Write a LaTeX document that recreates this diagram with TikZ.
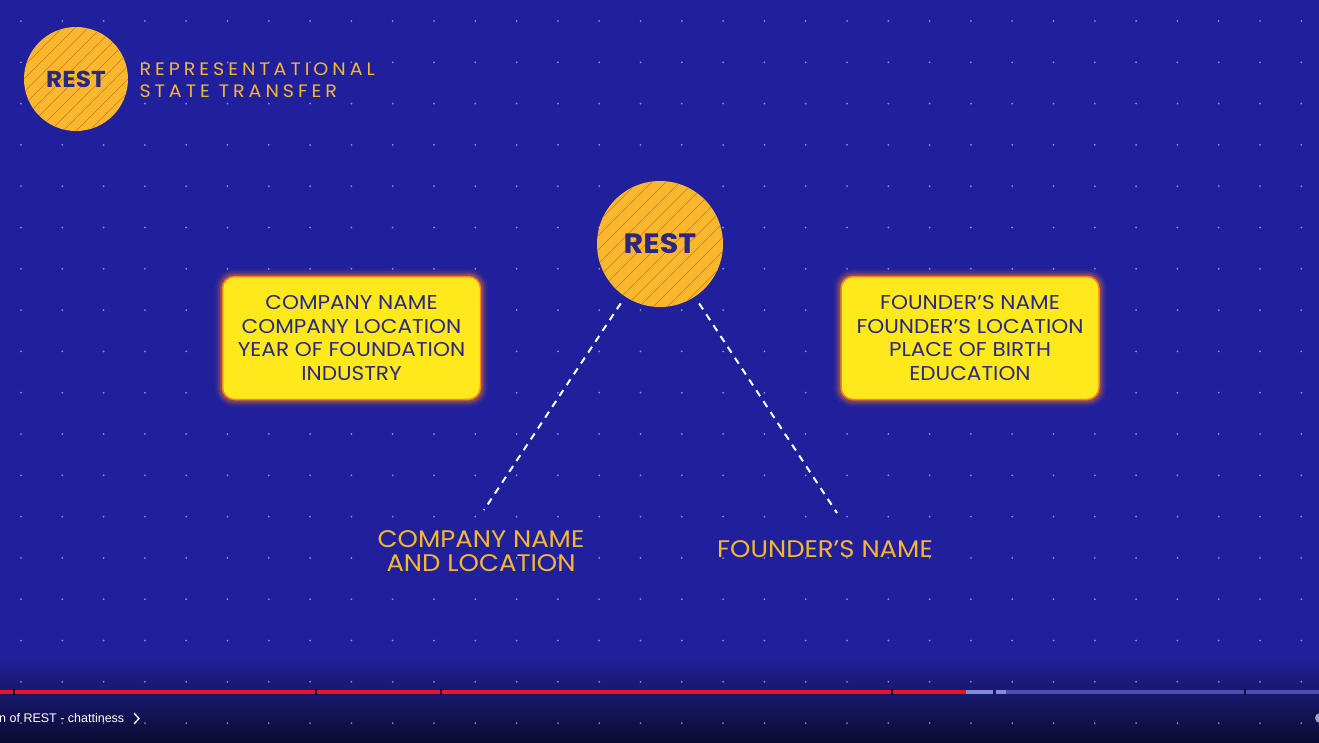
\documentclass[tikz,border=0pt]{standalone}
\usepackage{fontspec}
\setmainfont{Poppins}[FakeStretch=1.08]
\newfontfamily\spaced[LetterSpace=22, FakeStretch=1.06]{Poppins}
\newfontfamily\uifont{Liberation Sans}
\definecolor{bg}{RGB}{33,32,156}
\definecolor{bgdark}{RGB}{12,12,50}
\definecolor{circ}{RGB}{251,184,44}
\definecolor{hatch}{RGB}{200,120,45}
\definecolor{navy}{RGB}{42,40,130}
\definecolor{boxy}{RGB}{255,232,28}
\definecolor{glow}{RGB}{255,130,30}
\definecolor{lab}{RGB}{246,182,50}
\definecolor{prog}{RGB}{235,20,35}
\definecolor{progl}{RGB}{130,140,220}
\definecolor{progd}{RGB}{75,80,170}
\tikzset{
  x=1pt, y=-1pt,
  restcirc/.style={circle, fill=circ, inner sep=0pt},
  infobox/.style={rounded corners=12pt, fill=boxy, draw=glow, line width=1.5pt},
  boxtext/.style={text=navy, font=\fontsize{20}{23.5}\selectfont, align=center},
  label/.style={text=lab, font=\fontsize{24}{24}\selectfont, align=center},
  link/.style={white, line width=2pt, dash pattern=on 7pt off 6pt},
}
\begin{document}
\begin{tikzpicture}
\useasboundingbox (0,0) rectangle (1319,742);
% background
\fill[bg] (0,0) rectangle (1319,742);
\shade[top color=bg, bottom color=bgdark] (0,655) rectangle (1319,742);
% dot grid
\foreach \i in {0,...,31}{
  \foreach \j in {0,...,17}{
    \fill[white, opacity=0.5] ({21+41.3*\i},{21+41.3*\j}) circle (1pt);
  }
}
% small logo circle
\node[restcirc, minimum size=104pt] (logo) at (76,79) {};
\begin{scope}
  \clip (76,79) circle (52pt);
  \foreach \k in {-8,...,8}{
    \draw[hatch, line width=0.5pt] ({76+\k*13-80},{79+80}) -- ({76+\k*13+80},{79-80});
  }
\end{scope}
\node[text=navy, font=\fontsize{23}{23}\selectfont\bfseries] at (76,79) {REST};
\node[anchor=west, text=lab, align=left, font=\fontsize{18}{22}\selectfont\spaced] (title) at (136,80) {REPRESENTATIONAL\\STATE TRANSFER};
% central circle
\node[restcirc, minimum size=126pt] (rest) at (660,244) {};
\begin{scope}
  \clip (660,244) circle (63pt);
  \foreach \k in {-10,...,10}{
    \draw[hatch, line width=0.5pt] ({660+\k*14-90},{244+90}) -- ({660+\k*14+90},{244-90});
  }
\end{scope}
\node[text=navy, font=\fontsize{28}{28}\selectfont\bfseries] at (660,244) {REST};
% boxes with glow
\foreach \cx in {351.5,970}{
  \foreach \w/\o in {14/0.07,10/0.1,7/0.14,4/0.22}{
    \draw[glow, opacity=\o, line width=\w pt, rounded corners=12pt] ({\cx-129.5},276) rectangle ({\cx+129.5},400);
  }
}
\node[infobox, minimum width=258pt, minimum height=123pt] (lbox) at (351.5,338) {};
\node[boxtext] at (lbox) {COMPANY NAME\\COMPANY LOCATION\\YEAR OF FOUNDATION\\INDUSTRY};
\node[infobox, minimum width=258pt, minimum height=123pt] (rbox) at (970,338) {};
\node[boxtext] at (rbox) {FOUNDER’S NAME\\FOUNDER'S LOCATION\\PLACE OF BIRTH\\EDUCATION};
% labels
\node[label] (clab) at (481,551) {COMPANY NAME\\AND LOCATION};
\node[label] (flab) at (825,549) {FOUNDER’S NAME};
\coordinate (cend) at (484,510);
\coordinate (fend) at (837,513);
\draw[link, shorten <=8pt] (rest) -- (cend);
\draw[link, shorten <=8pt] (rest) -- (fend);
% progress bar
\fill[prog] (0,690) rectangle (966,694);
\fill[progl] (966,690) rectangle (993,694);
\fill[progl] (996,690) rectangle (1006,694);
\fill[progd] (1006,690) rectangle (1319,694);
\foreach \g in {13,315,440,891,1244}{
  \fill[bgdark] (\g,689) rectangle ({\g+1.5},695);
}
% bottom caption
\node[anchor=west, text=white, font=\uifont\fontsize{12.5}{14}\selectfont, inner sep=0pt] (cap) at (-1,718) {n of REST - chattiness};
\draw[white, line width=1.3pt] (134,713) -- (139,718.5) -- (134,724);
\fill[white, opacity=0.6] (1320,718) circle (5pt);
\end{tikzpicture}
\end{document}
